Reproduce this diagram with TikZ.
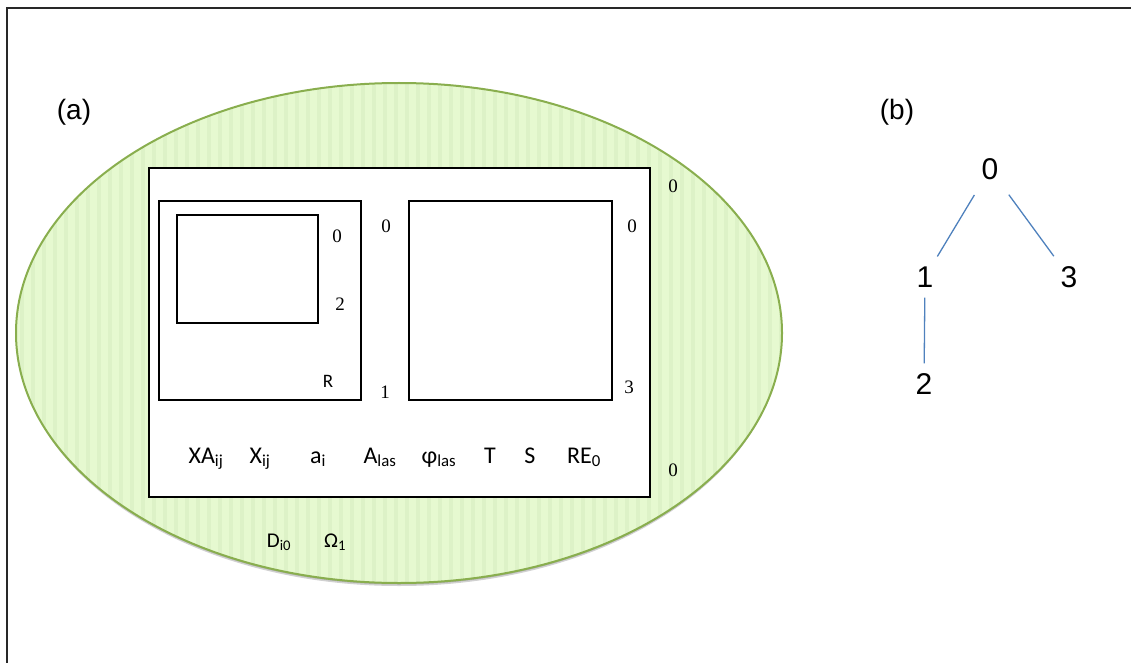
\documentclass[tikz,border=0pt]{standalone}
\usepackage{fontspec}
\setmainfont{Liberation Serif}
\newfontfamily\arialfont{Liberation Sans}
\newfontfamily\calibrifont{Carlito}
\usetikzlibrary{positioning,calc}
\definecolor{LeafFill}{RGB}{230,249,208}
\definecolor{LeafStripe}{RGB}{221,242,199}
\definecolor{LeafEdge}{RGB}{137,174,78}
\definecolor{TreeBlue}{RGB}{79,129,189}
\definecolor{FrameGray}{RGB}{40,40,40}
\tikzset{
	box/.style={draw=black,fill=white,line width=1.4pt,inner sep=0pt},
	num/.style={font=\fontsize{19}{19}\selectfont,inner sep=0pt,anchor=base},
	sym/.style={font=\calibrifont\fontsize{24}{24}\selectfont,inner sep=0pt,anchor=base},
	tag/.style={font=\arialfont\fontsize{28}{28}\selectfont,inner sep=0pt,anchor=base},
	leaf/.style={font=\arialfont\fontsize{30}{30}\selectfont,inner sep=10pt},
	link/.style={draw=TreeBlue,line width=1.3pt},
}

\begin{document}
\begin{tikzpicture}[x=1pt,y=-1pt]
	\useasboundingbox (0,0) rectangle (1131,663);
	\draw[FrameGray,line width=2pt] (7,663)--(7,8)--(1131,8);
	% (a) region
	\node[tag] (taga) at (74,120) {(a)};
	\fill[black!18] (399,336) ellipse [x radius=382,y radius=250];
	\fill[black!30] (399,334.5) ellipse [x radius=382.5,y radius=250];
	\fill[LeafFill] (399,333) ellipse [x radius=383,y radius=250];
	\begin{scope}
		\clip (399,333) ellipse [x radius=383,y radius=250];
		\foreach \x in {22,33,...,782}
			\draw[LeafStripe,line width=4pt] (\x,80)--(\x,590);
	\end{scope}
	\draw[LeafEdge,line width=2pt] (399,333) ellipse [x radius=383,y radius=250];
	\node[box,minimum width=501pt,minimum height=329pt] (frame0) at (399.5,332.5) {};
	\node[box,minimum width=202pt,minimum height=199pt] (frame1) at (260,300.5) {};
	\node[box,minimum width=141pt,minimum height=108pt] (frame2) at (247.5,269) {};
	\node[box,minimum width=203pt,minimum height=199pt] (frame3) at (510.5,300.5) {};
	\node[num] (lvl0a) at (673,193) {0};
	\node[num] (lvl0b) at (386,232) {0};
	\node[num] (lvl0c) at (337,242) {0};
	\node[num] (lvl2) at (340,310) {2};
	\node[sym,font=\calibrifont\fontsize{19}{19}\selectfont] (labR) at (328,387) {R};
	\node[num] (lvl1) at (385,398) {1};
	\node[num] (lvl0d) at (632,232) {0};
	\node[num] (lvl3) at (629,393) {3};
	\node[num] (lvl0e) at (673,476) {0};
	\node[sym] (sXA) at (206,463) {XA\textsubscript{ij}};
	\node[sym] (sX) at (260,463) {X\textsubscript{ij}};
	\node[sym] (sa) at (318,463) {a\textsubscript{i}};
	\node[sym] (sA) at (380,463) {A\textsubscript{las}};
	\node[sym] (sphi) at (439,463) {φ\textsubscript{las}};
	\node[sym] (sT) at (490,463) {T};
	\node[sym] (sS) at (530,463) {S};
	\node[sym] (sRE) at (584,463) {RE\textsubscript{0}};
	\node[sym,font=\calibrifont\fontsize{21}{21}\selectfont] (sD) at (279,547) {D\textsubscript{i0}};
	\node[sym,font=\calibrifont\fontsize{21}{21}\selectfont] (sOmega) at (335,547) {Ω\textsubscript{1}};
	% (b) tree
	\node[tag] (tagb) at (897,120) {(b)};
	\node[leaf] (t0) at (990,169) {0};
	\node[leaf] (t1) at (925,277) {1};
	\node[leaf] (t3) at (1069,277) {3};
	\node[leaf] (t2) at (924,384) {2};
	\draw[link,shorten <=6pt] (t0)--(t1);
	\draw[link,shorten <=6pt] (t0)--(t3);
	\draw[link] (t1)--(t2);
\end{tikzpicture}
\end{document}
